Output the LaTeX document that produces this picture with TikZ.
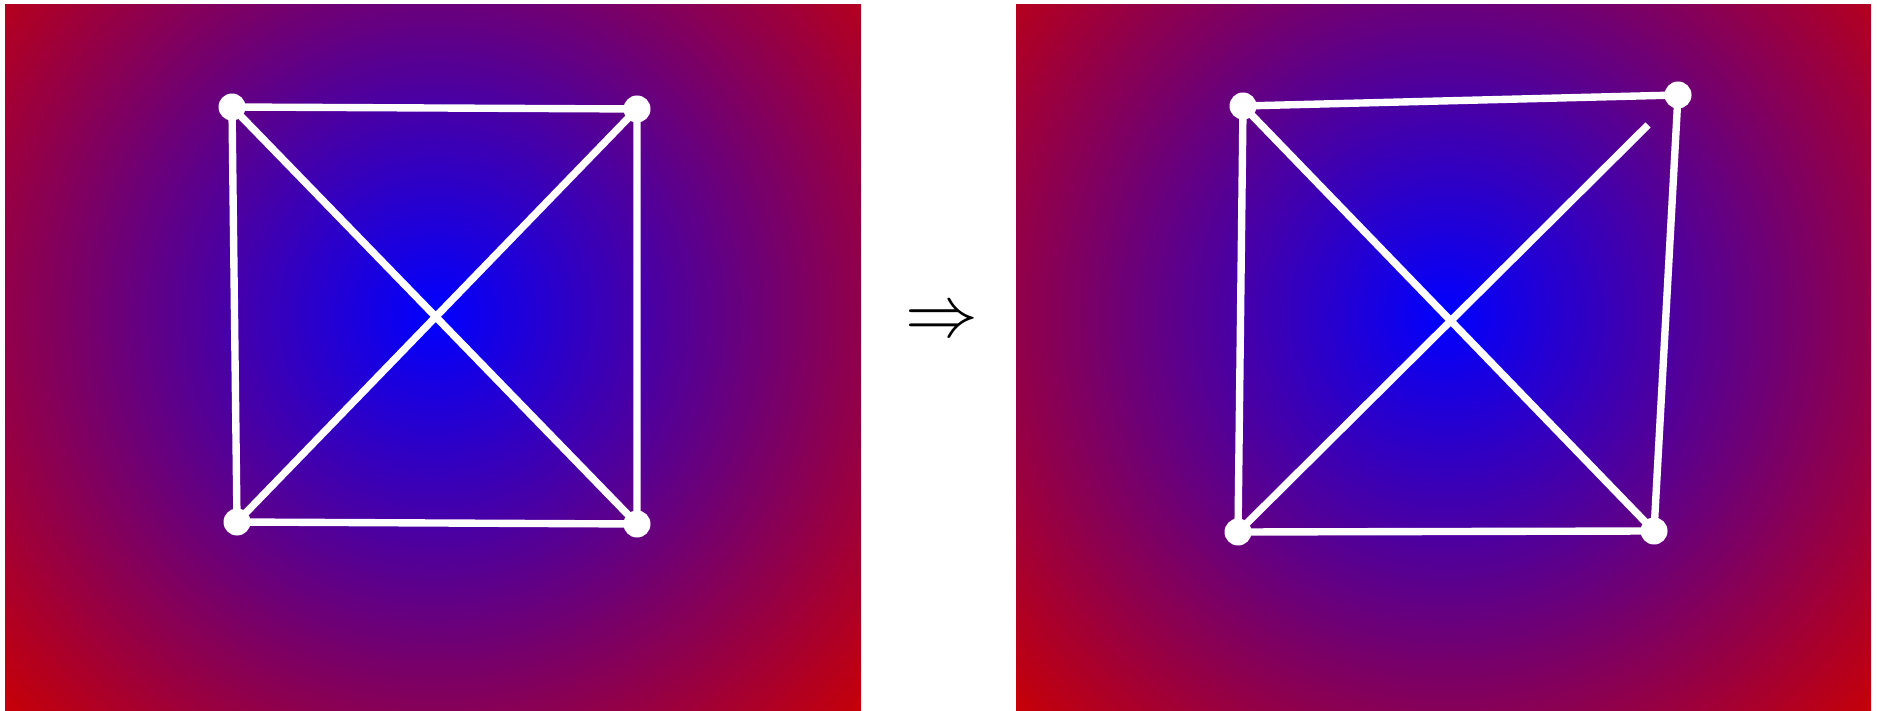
\documentclass[tikz,border=0pt]{standalone}
\begin{document}
\begin{tikzpicture}[
  vertex/.style={circle,fill=white,inner sep=0pt,minimum size=2.7mm},
  link/.style={white,line width=2.1pt},
  bg/.style={inner color=blue,outer color=red!80!black}]
\useasboundingbox (0,0) rectangle (18.77,7.10);
% backgrounds
\begin{scope}
\clip (0.05,0) rectangle (8.61,7.05);
\shade[bg] (4.35,3.95) ++(-6,-6) rectangle ++(12,12);
\end{scope}
\begin{scope}
\clip (10.16,0) rectangle (18.71,7.05);
\shade[bg] (14.46,3.95) ++(-6,-6) rectangle ++(12,12);
\end{scope}
% before
\node[vertex] (a1) at (2.32,6.03) {};
\node[vertex] (a2) at (6.37,6.01) {};
\node[vertex] (a3) at (2.37,1.88) {};
\node[vertex] (a4) at (6.37,1.86) {};
\draw[link] (a1.center)--(a2.center) (a2.center)--(a4.center) (a4.center)--(a3.center)
  (a3.center)--(a1.center) (a1.center)--(a4.center) (a2.center)--(a3.center);
\node (arr) at (9.42,3.87) {\fontsize{22}{26}\selectfont$\Rightarrow$};
% after
\node[vertex] (b1) at (12.43,6.04) {};
\node[vertex] (b2) at (16.78,6.15) {};
\node[vertex] (b3) at (12.38,1.78) {};
\node[vertex] (b4) at (16.54,1.79) {};
\coordinate (b2old) at (16.48,5.85);
\draw[link] (b1.center)--(b2.center) (b2.center)--(b4.center) (b4.center)--(b3.center)
  (b3.center)--(b1.center) (b1.center)--(b4.center) (b3.center)--(b2old);
\end{tikzpicture}
\end{document}
